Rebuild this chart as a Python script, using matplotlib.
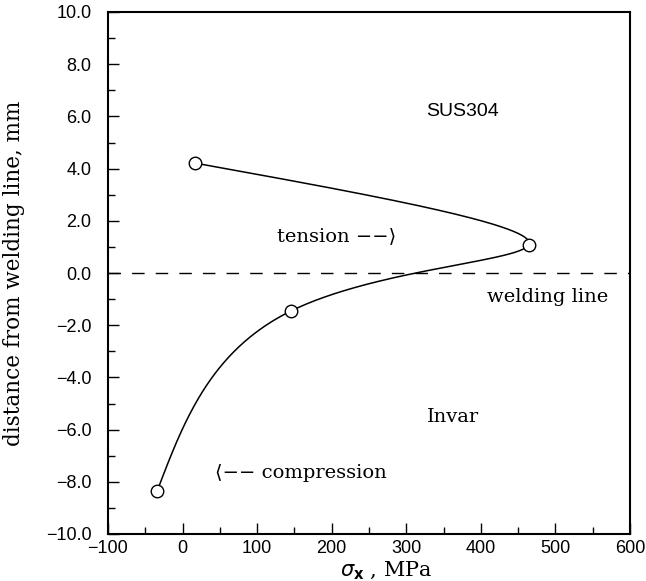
import numpy as np
import matplotlib
matplotlib.use("Agg")
import matplotlib.pyplot as plt
from matplotlib.ticker import MultipleLocator, FuncFormatter

# data (points in drawing order along the curve)
stress = [17, 464, 145, -34]        # sigma_x, MPa
distance = [4.21, 1.07, -1.46, -8.35]  # mm from welding line

xlim = (-100, 600)
ylim = (-10, 10)
xticks = [-100, 0, 100, 200, 300, 400, 500, 600]
yticks = [-10, -8, -6, -4, -2, 0, 2, 4, 6, 8, 10]

annotations = [
    ("SUS304", 376, 6.2, "sans"),
    ("tension \u2212\u2212\u27e9", 207, 1.42, "serif"),
    ("welding line", 490, -0.92, "serif"),
    ("Invar", 362, -5.52, "serif"),
    ("\u27e8\u2212\u2212 compression", 158, -7.66, "serif"),
]


def natural_spline_param(px, py, n=400, alpha=0.5):
    px = np.asarray(px, float)
    py = np.asarray(py, float)
    sx = px * 0.743
    sy = py * 26.1
    d = np.hypot(np.diff(sx), np.diff(sy)) ** alpha
    t = np.concatenate([[0], np.cumsum(d)])
    m = len(t)

    def coeffs(v):
        h = np.diff(t)
        A = np.zeros((m, m))
        b = np.zeros(m)
        A[0, 0] = 1
        A[-1, -1] = 1
        for i in range(1, m - 1):
            A[i, i - 1] = h[i - 1]
            A[i, i] = 2 * (h[i - 1] + h[i])
            A[i, i + 1] = h[i]
            b[i] = 6 * ((v[i + 1] - v[i]) / h[i] - (v[i] - v[i - 1]) / h[i - 1])
        return np.linalg.solve(A, b)

    def evaluate(v, M, tt):
        out = np.empty_like(tt)
        for k, tv in enumerate(tt):
            i = min(np.searchsorted(t, tv, side="right") - 1, m - 2)
            h = t[i + 1] - t[i]
            a = (t[i + 1] - tv) / h
            bb = (tv - t[i]) / h
            out[k] = (a * v[i] + bb * v[i + 1]
                      + ((a ** 3 - a) * M[i] + (bb ** 3 - bb) * M[i + 1]) * h * h / 6)
        return out

    tt = np.linspace(0, t[-1], n)
    return evaluate(px, coeffs(px), tt), evaluate(py, coeffs(py), tt)


fig = plt.figure(figsize=(6.46, 5.81), dpi=100)
ax = fig.add_axes([108 / 646, 1 - 534 / 581, (630 - 108) / 646, (534 - 12) / 581])

cx, cy = natural_spline_param(stress, distance)
ax.plot(cx, cy, color="black", lw=1.1, zorder=2)
ax.plot(stress, distance, "o", ms=9, mfc="white", mec="black", mew=1.0, zorder=3)
ax.axhline(0, color="black", lw=1.0, dashes=(9, 8), zorder=1)

ax.set_xlim(*xlim)
ax.set_ylim(*ylim)
ax.set_xticks(xticks)
ax.set_yticks(yticks)
ax.xaxis.set_minor_locator(MultipleLocator(50))
ax.yaxis.set_minor_locator(MultipleLocator(1))
ax.yaxis.set_major_formatter(FuncFormatter(lambda v, p: f"{v:.1f}".replace("-", "\u2212")))
ax.tick_params(which="both", direction="in", top=False, right=False)
ax.tick_params(which="major", length=8, width=1.0)
ax.tick_params(which="minor", length=5, width=1.0)
ax.tick_params(axis="y", which="major", pad=12)
ax.tick_params(axis="x", which="major", pad=4)
for lab in ax.get_xticklabels() + ax.get_yticklabels():
    lab.set_fontfamily("Liberation Sans")
    lab.set_fontsize(13)
for s in ax.spines.values():
    s.set_linewidth(1.5)

plt.rcParams["mathtext.fontset"] = "dejavuserif"
ax.set_ylabel("distance from welding line, mm", family="DejaVu Serif", fontsize=15.5)
ax.yaxis.set_label_coords(-0.159, 0.5)
ax.set_xlabel(r"$\sigma_{\mathbf{x}}$ , MPa", family="DejaVu Serif", fontsize=15)
ax.xaxis.set_label_coords(0.533, -0.05)

for txt, x, y, kind in annotations:
    if kind == "sans":
        ax.text(x, y, txt, ha="center", va="center",
                family=["Liberation Sans", "DejaVu Sans"], fontsize=14)
    else:
        ax.text(x, y, txt, ha="center", va="center",
                family=["DejaVu Serif", "DejaVu Sans"], fontsize=14)

fig.savefig("out.png", dpi=100)
